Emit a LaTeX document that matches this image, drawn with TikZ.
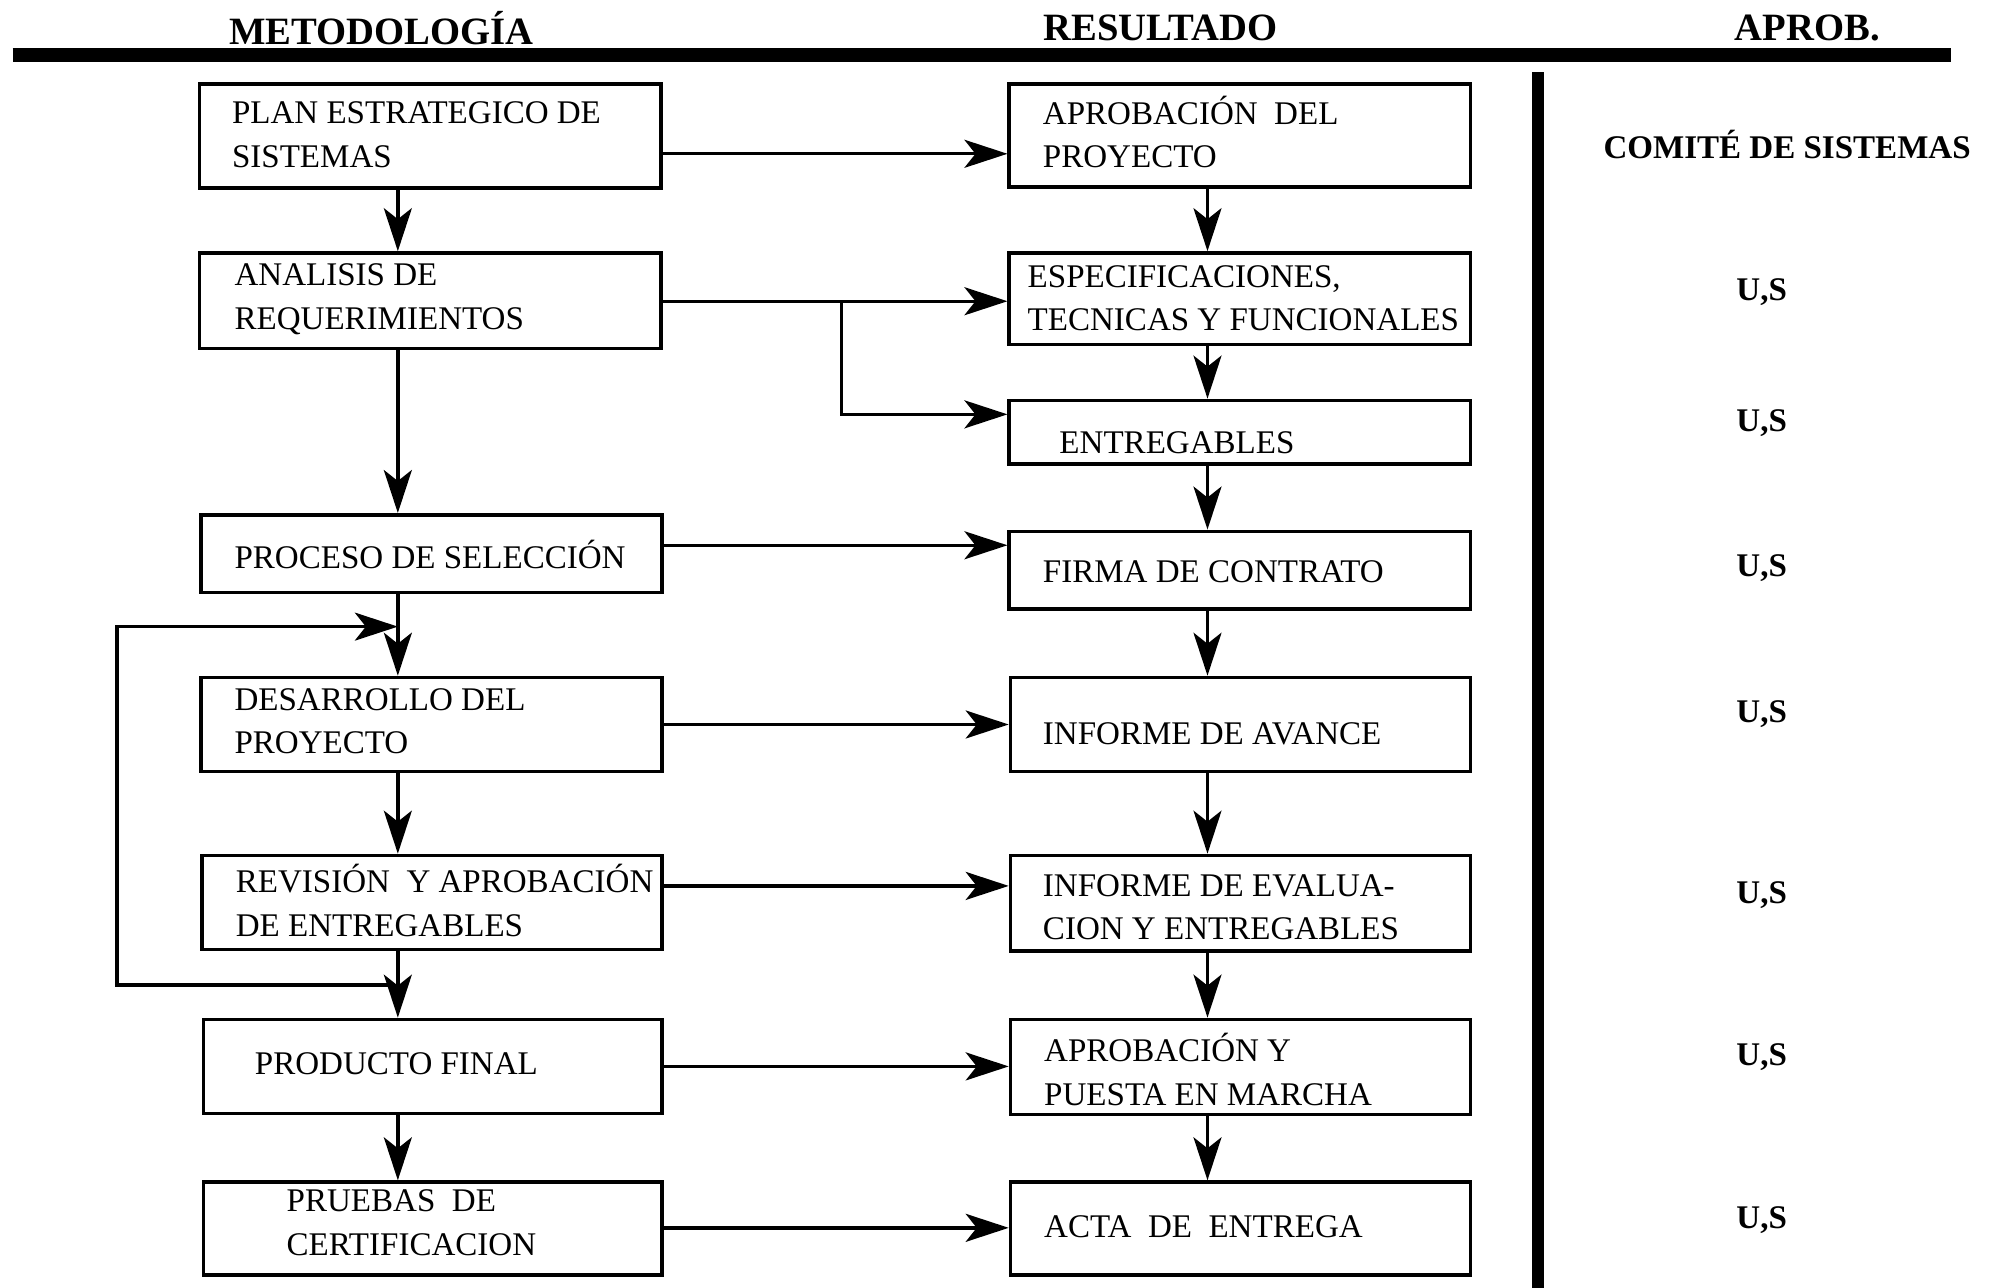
\documentclass[tikz,border=0pt]{standalone}
\usepackage{fontspec}
\setmainfont{Liberation Serif}
\usetikzlibrary{arrows.meta}

% box from (x1,y1) to (x2,y2), in the picture's pixel grid
\newcommand\flowbox[5]{%
  \node[flowrect, minimum width={(#4-#2)*0.01271cm}, minimum height={(#5-#3)*0.01271cm}]
    (#1) at ({(#2+#4)/2},{(#3+#5)/2}) {};}

\tikzset{
  flowrect/.style={draw, rectangle, line width=1pt, inner sep=0pt},
  boxtext/.style={anchor=west, align=left, inner sep=0pt,
    font=\fontsize{9.4}{12.3}\selectfont},
  headtext/.style={inner sep=0pt, font=\fontsize{11}{13}\selectfont\bfseries},
  apptext/.style={inner sep=0pt, font=\fontsize{9.4}{12}\selectfont\bfseries},
  arr/.style={line width=0.95pt,
    -{Stealth[length=0.43cm, width=0.28cm, inset=0.11cm]}},
}

\begin{document}
\begin{tikzpicture}[x=0.01271cm, y=-0.01271cm]
\useasboundingbox (0,0) rectangle (1568,1013);

% column headings and rules
\node[headtext] (hmet) at (300,22) {METODOLOGÍA};
\node[headtext] (hres) at (913,22) {RESULTADO};
\node[headtext] (hapr) at (1422,22) {APROB.};
\draw[line width=4pt] (10,43) coordinate (rulel) -- (1535,43) coordinate (ruler);
\draw[line width=3.4pt] (1210,57) coordinate (vtop) -- (1210,1013) coordinate (vbot);

% methodology column
\flowbox{plan}{157}{66}{520}{148}
\flowbox{anal}{157}{199}{520}{274}
\flowbox{proc}{158}{405}{521}{466}
\flowbox{desa}{158}{533}{521}{607}
\flowbox{revi}{159}{673}{521}{747}
\flowbox{prod}{160}{802}{521}{876}
\flowbox{prue}{160}{930}{521}{1003}

\node[boxtext] (tplan) at (182,106) {PLAN ESTRATEGICO DE\\SISTEMAS};
\node[boxtext] (tanal) at (184,235.5) {ANALISIS DE\\REQUERIMIENTOS};
\node[boxtext] (tproc) at (184,436) {PROCESO DE SELECCIÓN};
\node[boxtext] (tdesa) at (184,567.5) {DESARROLLO DEL\\PROYECTO};
\node[boxtext] (trevi) at (185,708.5) {REVISIÓN\ \ Y APROBACIÓN\\DE ENTREGABLES};
\node[boxtext] (tprod) at (200,837) {PRODUCTO FINAL};
\node[boxtext] (tprue) at (225,962) {PRUEBAS\ \ DE\\CERTIFICACION};

% result column
\flowbox{apro}{794}{66}{1157}{147}
\flowbox{espe}{794}{199}{1157}{271}
\flowbox{entr}{794}{315}{1157}{365}
\flowbox{firm}{794}{418}{1157}{479}
\flowbox{avan}{795}{533}{1157}{607}
\flowbox{eval}{795}{673}{1157}{748}
\flowbox{pues}{795}{802}{1157}{877}
\flowbox{acta}{795}{930}{1157}{1003}

\node[boxtext] (tapro) at (820,104) {APROBACIÓN\ \ DEL\\PROYECTO};
\node[boxtext] (tespe) at (808,234.5) {ESPECIFICACIONES,\\TECNICAS Y FUNCIONALES};
\node[boxtext] (tentr) at (833,348) {ENTREGABLES};
\node[boxtext] (tfirm) at (820,450) {FIRMA DE CONTRATO};
\node[boxtext] (tavan) at (820,577) {INFORME DE AVANCE};
\node[boxtext] (teval) at (820,713.5) {INFORME DE EVALUA-\\CION Y ENTREGABLES};
\node[boxtext] (tpues) at (821,841.5) {APROBACIÓN Y\\PUESTA EN MARCHA};
\node[boxtext] (tacta) at (821,965) {ACTA\ \ DE\ \ ENTREGA};

% approval column
\node[apptext] (comite) at (1406,114) {COMITÉ DE SISTEMAS};
\node[apptext] (us1) at (1386,230) {U,S};
\node[apptext] (us2) at (1386,333) {U,S};
\node[apptext] (us3) at (1386,447) {U,S};
\node[apptext] (us4) at (1386,562) {U,S};
\node[apptext] (us5) at (1386,704) {U,S};
\node[apptext] (us6) at (1386,832) {U,S};
\node[apptext] (us7) at (1386,960) {U,S};

% methodology flow
\draw[arr] (plan.south -| 313,0) -- (anal.north -| 313,0);
\draw[arr] (anal.south -| 313,0) -- (proc.north -| 313,0);
\draw[arr] (proc.south -| 313,0) -- (desa.north -| 313,0);
\draw[arr] (desa.south -| 313,0) -- (revi.north -| 313,0);
\draw[arr] (revi.south -| 313,0) -- (prod.north -| 313,0);
\draw[arr] (prod.south -| 313,0) -- (prue.north -| 313,0);

% rework loop back to development
\coordinate (loopout) at (306,775);
\coordinate (loopin) at (313,493);
\draw[arr] (loopout) -- (92,775) |- (loopin);

% result flow
\draw[arr] (apro.south -| 950,0) -- (espe.north -| 950,0);
\draw[arr] (espe.south -| 950,0) -- (entr.north -| 950,0);
\draw[arr] (entr.south -| 950,0) -- (firm.north -| 950,0);
\draw[arr] (firm.south -| 950,0) -- (avan.north -| 950,0);
\draw[arr] (avan.south -| 950,0) -- (eval.north -| 950,0);
\draw[arr] (eval.south -| 950,0) -- (pues.north -| 950,0);
\draw[arr] (pues.south -| 950,0) -- (acta.north -| 950,0);

% methodology step -> result
\draw[arr] (plan.east |- 0,121) -- (apro.west |- 0,121);
\draw[arr] (anal.east |- 0,237) -- (espe.west |- 0,237);
\coordinate (branch) at (662,237);
\draw[arr] (branch) |- (entr.west |- 0,326);
\draw[arr] (proc.east |- 0,429) -- (firm.west |- 0,429);
\draw[arr] (desa.east |- 0,570) -- (avan.west |- 0,570);
\draw[arr] (revi.east |- 0,697) -- (eval.west |- 0,697);
\draw[arr] (prod.east |- 0,839) -- (pues.west |- 0,839);
\draw[arr] (prue.east |- 0,966) -- (acta.west |- 0,966);
\end{tikzpicture}
\end{document}
